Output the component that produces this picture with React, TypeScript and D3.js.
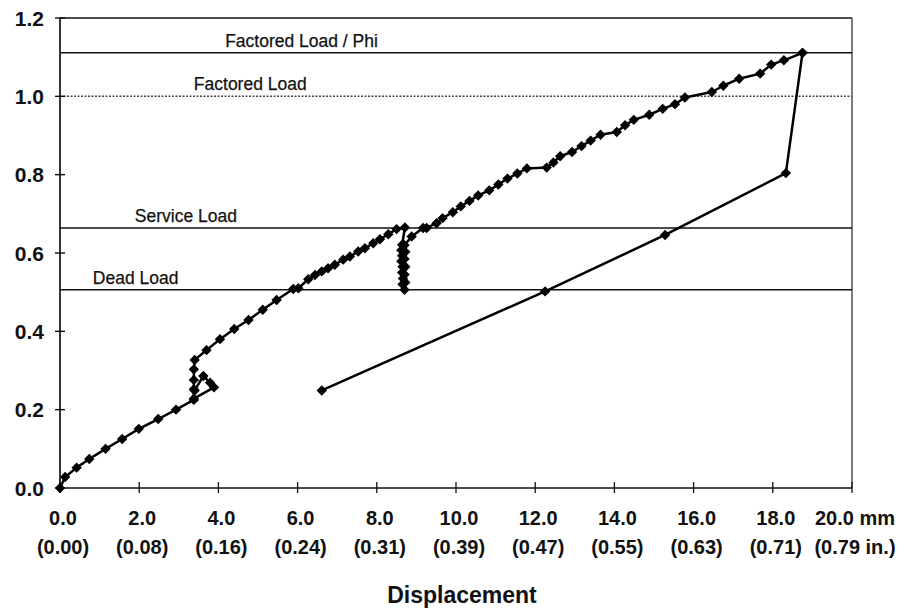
import React from "react";
import * as d3 from "d3";

// ---- data ----
const loadPathX = [
  0, 0.13, 0.42, 0.74, 1.15, 1.57, 1.99, 2.48, 2.93, 3.38, 3.40, 3.62, 3.79, 3.89, 3.38, 3.38, 3.38, 3.38, 3.40,
  3.70, 4.04, 4.40, 4.76, 5.12, 5.47, 5.89, 6.02, 6.27, 6.44, 6.61, 6.77, 6.94, 7.15, 7.32, 7.53, 7.70, 7.91,
  8.08, 8.29, 8.50, 8.71,
  8.64, 8.62, 8.64, 8.62, 8.65, 8.64, 8.66, 8.65, 8.70,
  8.72, 8.70, 8.72, 8.70, 8.72, 8.70,
  8.88, 9.17, 9.26, 9.51, 9.66, 9.92, 10.12, 10.34, 10.56, 10.84, 11.07, 11.30, 11.55, 11.79, 12.29, 12.46,
  12.63, 12.93, 13.17, 13.40, 13.65, 14.06, 14.27, 14.49, 14.88, 15.22, 15.53, 15.78, 16.46, 16.75, 17.15,
  17.68, 17.96, 18.28, 18.75,
];
const loadPathY = [
  0, 0.028, 0.052, 0.074, 0.100, 0.125, 0.151, 0.176, 0.200, 0.225, 0.249, 0.286, 0.269, 0.257, 0.228, 0.252, 0.276, 0.303, 0.327,
  0.352, 0.380, 0.406, 0.429, 0.455, 0.480, 0.508, 0.510, 0.533, 0.544, 0.553, 0.561, 0.570, 0.583, 0.591, 0.604, 0.612, 0.625,
  0.635, 0.648, 0.661, 0.665,
  0.621, 0.607, 0.593, 0.579, 0.565, 0.550, 0.535, 0.520, 0.506,
  0.525, 0.545, 0.565, 0.585, 0.603, 0.620,
  0.642, 0.664, 0.664, 0.676, 0.689, 0.704, 0.719, 0.733, 0.747, 0.760, 0.775, 0.790, 0.803, 0.816, 0.818, 0.831,
  0.847, 0.858, 0.873, 0.887, 0.902, 0.909, 0.926, 0.940, 0.953, 0.968, 0.980, 0.997, 1.011, 1.027, 1.045,
  1.058, 1.081, 1.092, 1.111,
];
const unloadX = [18.75, 18.33, 15.28, 12.25, 6.61];
const unloadY = [1.111, 0.804, 0.646, 0.502, 0.249];

const refNames = ["Factored Load / Phi", "Factored Load", "Service Load", "Dead Load"];
const refValues = [1.111, 1.0, 0.664, 0.506];
const refLabelX = [4.17, 3.38, 1.89, 0.83];

const xTicks = [0, 2, 4, 6, 8, 10, 12, 14, 16, 18, 20];
const xTickLabels = ["0.0", "2.0", "4.0", "6.0", "8.0", "10.0", "12.0", "14.0", "16.0", "18.0", "20.0 mm"];
const xTickInches = ["(0.00)", "(0.08)", "(0.16)", "(0.24)", "(0.31)", "(0.39)", "(0.47)", "(0.55)", "(0.63)", "(0.71)", "(0.79 in.)"];
const yTicks = [0, 0.2, 0.4, 0.6, 0.8, 1.0, 1.2];
const xTitle = "Displacement";

export default function App() {
  const W = 911, H = 611;
  const x = d3.scaleLinear().domain([0, 20]).range([60, 852]);
  const y = d3.scaleLinear().domain([0, 1.2]).range([488, 18]);

  const main = loadPathX.map((v, i) => [v, loadPathY[i]] as [number, number]);
  const unload = unloadX.map((v, i) => [v, unloadY[i]] as [number, number]);
  const line = d3.line<[number, number]>().x((d) => x(d[0])).y((d) => y(d[1]));
  const diamond = (cx: number, cy: number, r = 5.2) =>
    `M${cx},${cy - r}L${cx + r},${cy}L${cx},${cy + r}L${cx - r},${cy}Z`;

  const font = "'Liberation Sans', Arial, Helvetica, sans-serif";
  const [x0, x1] = x.range();
  const [y0, y1] = y.range();

  return (
    <svg width={W} height={H} style={{ position: "absolute", left: 0, top: 0, background: "#fff" }}>
      {/* frame */}
      <line x1={x0} x2={x1} y1={y1} y2={y1} stroke="#111" strokeWidth={1.6} />
      <line x1={x1} x2={x1} y1={y1} y2={y0} stroke="#444" strokeWidth={1.4} />
      <line x1={x0} x2={x0} y1={y1} y2={y0} stroke="#111" strokeWidth={1.7} />
      <line x1={x0} x2={x1} y1={y0} y2={y0} stroke="#111" strokeWidth={1.7} />

      {/* reference lines */}
      {refValues.map((v, i) => (
        <g key={refNames[i]}>
          <line
            x1={x0}
            x2={x1}
            y1={y(v)}
            y2={y(v)}
            stroke={i === 1 ? "#444" : "#111"}
            strokeWidth={1.5}
            strokeDasharray={i === 1 ? "2,1.5" : undefined}
          />
          <text x={x(refLabelX[i])} y={y(v) - 6} fontFamily={font} fontSize={17.5} fill="#111"
            stroke="#111" strokeWidth={0.25}>
            {refNames[i]}
          </text>
        </g>
      ))}

      {/* y ticks */}
      {yTicks.map((t) => (
        <g key={t}>
          <line x1={x0 - 5} x2={x0 + 5} y1={y(t)} y2={y(t)} stroke="#111" strokeWidth={1.4} />
          <text
            x={44}
            y={y(t) + 7.5}
            textAnchor="end"
            fontFamily={font}
            fontWeight="bold"
            fontSize={21}
            fill="#111"
          >
            {t.toFixed(1)}
          </text>
        </g>
      ))}

      {/* x ticks */}
      {xTicks.map((t, i) => (
        <g key={t}>
          <line x1={x(t)} x2={x(t)} y1={y0 - 6} y2={y0 + 5} stroke="#111" strokeWidth={1.3} />
          <text
            x={x(t) + 3}
            y={525}
            textAnchor="middle"
            fontFamily={font}
            fontWeight="bold"
            fontSize={20}
            fill="#111"
          >
            {xTickLabels[i]}
          </text>
          <text
            x={x(t) + 3}
            y={554}
            textAnchor="middle"
            fontFamily={font}
            fontWeight="bold"
            fontSize={20}
            fill="#111"
          >
            {xTickInches[i]}
          </text>
        </g>
      ))}

      <text
        x={462}
        y={603}
        textAnchor="middle"
        fontFamily={font}
        fontWeight="bold"
        fontSize={23}
        fill="#111"
      >
        {xTitle}
      </text>

      {/* data */}
      <path d={line(main) || ""} fill="none" stroke="#000" strokeWidth={2.5} strokeLinejoin="round" />
      <path d={line(unload) || ""} fill="none" stroke="#000" strokeWidth={2.5} strokeLinejoin="round" />
      {main.map((d, i) => (
        <path key={"m" + i} d={diamond(x(d[0]), y(d[1]))} fill="#000" />
      ))}
      {unload.map((d, i) => (
        <path key={"u" + i} d={diamond(x(d[0]), y(d[1]))} fill="#000" />
      ))}
    </svg>
  );
}
